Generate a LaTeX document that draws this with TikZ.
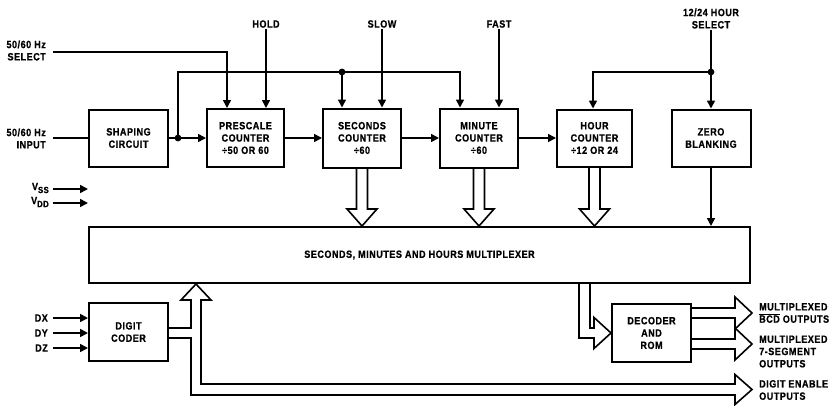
\documentclass[tikz,border=0pt]{standalone}
\usepackage{fontspec}
\setmainfont{Liberation Sans}[FakeStretch=0.86,LetterSpace=5,BoldFeatures={FakeBold=0.8}]
\usetikzlibrary{arrows.meta,calc}
\newcommand\lab{\fontsize{10.5}{12.3}\selectfont\bfseries}
\newcommand\ovl[1]{{\setbox0\hbox{#1}\rlap{\rule[\dimexpr\ht0+1pt\relax]{\wd0}{0.8pt}}\box0}}
\newcommand\hollowdown[2]{%
  \draw[hol] let \p1=(#1.south), \p2=(#2.north) in
   (\x1-5.5pt,\y1) -- (\x1-5.5pt,\y2+17pt) -- (\x1-15pt,\y2+17pt) -- (\x1,\y2)
   -- (\x1+15pt,\y2+17pt) -- (\x1+5.5pt,\y2+17pt) -- (\x1+5.5pt,\y1);}
\newcommand\hollowright[3]{% #1 source node, #2 tip coordinate, #3 half channel
  \draw[hol] let \p1=(#1.east), \p2=(#2) in
   (\x1,\y2+#3) -- (\x2-17pt,\y2+#3) -- (\x2-17pt,\y2+16pt) -- (\p2)
   -- (\x2-17pt,\y2-16pt) -- (\x2-17pt,\y2-#3) -- (\x1,\y2-#3);}
\begin{document}
\begin{tikzpicture}[x=1pt,y=-1pt,
  blk/.style={draw,line width=2pt,inner sep=0pt,align=center,font=\lab},
  lbl/.style={inner sep=1pt,font=\lab},
  ln/.style={line width=1.6pt},
  arr/.style={line width=1.6pt,-{Triangle[length=8pt,width=8pt]}},
  hol/.style={line width=1.6pt,line join=miter},
  jdot/.style={fill=black}]
\fill[white] (0,0) rectangle (833,405);
\useasboundingbox (0,0) rectangle (833,405);

% blocks
\node[blk,minimum width=79pt,minimum height=57pt] (shape) at (128.5,138) {SHAPING\\CIRCUIT};
\node[blk,minimum width=77pt,minimum height=58pt] (pre) at (245.5,138) {PRESCALE\\COUNTER\\÷50 OR 60};
\node[blk,minimum width=78pt,minimum height=59pt] (sec) at (362,138) {SECONDS\\COUNTER\\÷60};
\node[blk,minimum width=78pt,minimum height=59pt] (min) at (479,138) {MINUTE\\COUNTER\\÷60};
\node[blk,minimum width=75pt,minimum height=57pt] (hour) at (594.5,138) {HOUR\\COUNTER\\÷12 OR 24};
\node[blk,minimum width=79pt,minimum height=57pt] (zero) at (711,138) {ZERO\\BLANKING};
\node[blk,minimum width=661pt,minimum height=56pt] (mux) at (419.5,255) {SECONDS, MINUTES AND HOURS MULTIPLEXER};
\node[blk,minimum width=79pt,minimum height=58pt] (coder) at (128.5,332) {DIGIT\\CODER};
\node[blk,minimum width=79pt,minimum height=58pt] (dec) at (651.5,333) {DECODER\\AND\\ROM};

% labels
\node[lbl,anchor=east,align=right] (selL) at (47,50.5) {50/60 Hz\\SELECT};
\node[lbl,anchor=east,align=right] (inL) at (47,138.5) {50/60 Hz\\INPUT};
\node[lbl] (hold) at (266,24) {HOLD};
\node[lbl] (slow) at (382,24) {SLOW};
\node[lbl] (fast) at (499,24) {FAST};
\node[lbl,align=center] (hsel) at (711,18.5) {12/24 HOUR\\SELECT};
\node[lbl,anchor=east] (vssL) at (50,188) {V\raisebox{-3pt}{\fontsize{9}{9}\selectfont SS}};
\node[lbl,anchor=east] (vddL) at (50,202) {V\raisebox{-3pt}{\fontsize{9}{9}\selectfont DD}};
\node[lbl,anchor=east] (dxL) at (49,318) {DX};
\node[lbl,anchor=east] (dyL) at (49,333) {DY};
\node[lbl,anchor=east] (dzL) at (49,348) {DZ};
\node[lbl,anchor=west,align=left] (o1) at (758,313) {MULTIPLEXED\\\ovl{BCD} OUTPUTS};
\node[lbl,anchor=west,align=left] (o2) at (758,351.5) {MULTIPLEXED\\7-SEGMENT\\OUTPUTS};
\node[lbl,anchor=west,align=left] (o3) at (758,390) {DIGIT ENABLE\\OUTPUTS};

% wire coordinates
\coordinate (selA) at (53,52);
\coordinate (inA) at (53,138);
\coordinate (jn) at (178,138);
\coordinate (secdot) at (342,72);
\coordinate (hdot) at (711,72);
\coordinate (vssA) at (53,189);
\coordinate (vssB) at (88,189);
\coordinate (vddA) at (53,203);
\coordinate (vddB) at (88,203);
\coordinate (dxA) at (53,318);
\coordinate (dyA) at (53,333);
\coordinate (dzA) at (53,348);
\coordinate (t1) at (752,313);
\coordinate (t2) at (752,344);
\coordinate (t3) at (752,389.5);

% top row wiring
\draw[arr] (selA) -| ($(pre.north)+(-18.5,0)$);
\draw[arr] (hold) -- (hold |- pre.north);
\draw[arr] (slow) -- (slow |- sec.north);
\draw[arr] (fast) -- (fast |- min.north);
\draw[ln] (inA) -- (shape.west);
\draw[arr] (shape) -- (pre);
\draw[arr] (pre) -- (sec);
\draw[arr] (sec) -- (min);
\draw[arr] (min) -- (hour);
\draw[arr] (jn) |- (secdot) -| ($(min.north)+(-19,0)$);
\draw[arr] (secdot) -- (secdot |- sec.north);
\fill[jdot] (jn) circle (3.4pt);
\fill[jdot] (secdot) circle (3.4pt);
\draw[arr] (hsel) -- (hsel |- zero.north);
\draw[arr] (hdot) -| ($(hour.north)+(-1.5,0)$);
\fill[jdot] (hdot) circle (3.4pt);
\draw[arr] (zero) -- (zero |- mux.north);

% supply and digit inputs
\draw[arr] (vssA) -- (vssB);
\draw[arr] (vddA) -- (vddB);
\draw[arr] (dxA) -- (dxA -| coder.west);
\draw[arr] (dyA) -- (dyA -| coder.west);
\draw[arr] (dzA) -- (dzA -| coder.west);

% hollow buses into multiplexer
\hollowdown{sec}{mux}
\hollowdown{min}{mux}
\hollowdown{hour}{mux}

% multiplexer to decoder
\draw[hol] let \p1=($(mux.south)+(165,0)$), \p2=(dec.west) in
  (\x1-5.5pt,\y1) -- (\x1-5.5pt,\y2-5pt) -- (\x2-17pt,\y2-5pt) -- (\x2-17pt,\y2-15.5pt)
  -- (\p2) -- (\x2-17pt,\y2+15.5pt) -- (\x2-17pt,\y2+5pt) -- (\x1+5.5pt,\y2+5pt) -- (\x1+5.5pt,\y1);

% decoder outputs
\hollowright{dec}{t1}{5pt}
\hollowright{dec}{t2}{5pt}

% digit coder bus
\draw[hol] let \p1=(coder.east), \p2=($(mux.south)+(-223.5,0)$), \p3=(t3) in
  (\x1,\y1+4pt) -- (\x2-5pt,\y1+4pt) -- (\x2-5pt,\y2-16pt) -- (\x2-15pt,\y2-16pt) -- (\p2)
  -- (\x2+15pt,\y2-16pt) -- (\x2+5pt,\y2-16pt) -- (\x2+5pt,\y3+5.5pt) -- (\x3-17pt,\y3+5.5pt)
  -- (\x3-17pt,\y3+15pt) -- (\p3) -- (\x3-17pt,\y3-15pt) -- (\x3-17pt,\y3-5.5pt)
  -- (\x2-5pt,\y3-5.5pt) -- (\x2-5pt,\y1-6pt) -- (\x1,\y1-6pt);
\end{tikzpicture}
\end{document}
